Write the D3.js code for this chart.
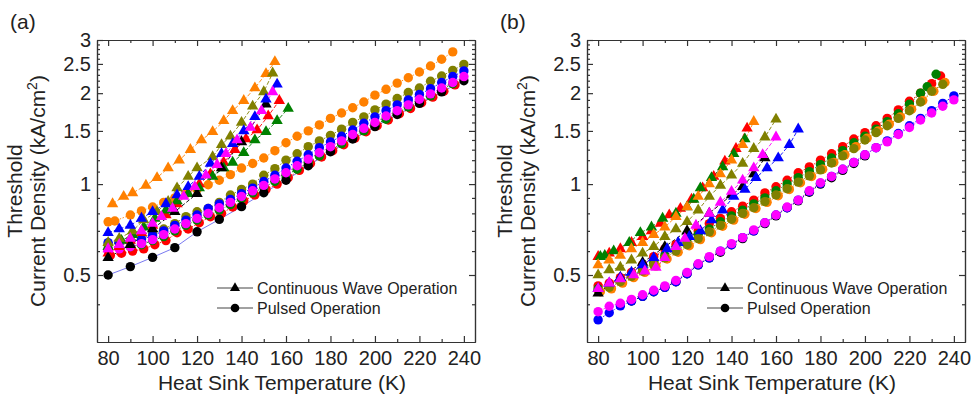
<!DOCTYPE html>
<html><head><meta charset="utf-8">
<script src="https://cdn.jsdelivr.net/npm/d3@7"></script>
<style>body{margin:0;background:#fff} svg{display:block} text{font-family:"Liberation Sans",Arial,sans-serif;fill:#222}</style>
</head><body><svg id="c" width="975" height="399"></svg>
<script>
// ---------- axis / label data ----------
const xTicksMajor=[80,100,120,140,160,180,200,220,240];
const xTicksMinor=[90,110,130,150,170,190,210,230];
const yTicksMajor=[0.5,1,1.5,2,2.5,3];
const yTickLabels=["0.5","1","1.5","2","2.5","3"];
const yTicksMinor=[0.4,0.6,0.7,0.8,0.9,1.1,1.2,1.3,1.4,1.6,1.7,1.8,1.9,2.1,2.2,2.3,2.4,2.6,2.7,2.8,2.9];
const legendLabels=["Continuous Wave Operation","Pulsed Operation"];
const panelLabels=["(a)","(b)"];
const xTitle="Heat Sink Temperature (K)";
const yTitle1="Threshold";
const yTitle2="Current Density (kA/cm";

// ---------- panel (a): continuous wave [T (K), J (kA/cm2)] ----------
const a_cw_orange=[[82,0.86],[87,0.91],[91,0.935],[97,0.99],[102,1.05],[107,1.13],[112,1.20],[117,1.30],[122,1.40],[127,1.49],[132,1.62],[136,1.75],[141,1.89],[146,2.08],[151,2.32],[155,2.54]];
const a_cw_olive=[[80,0.64],[85,0.66],[91,0.70],[96,0.76],[102,0.81],[107,0.875],[111,0.97],[116,1.06],[120,1.13],[127,1.23],[131,1.35],[135,1.44],[140,1.60],[145,1.81],[150,2.02],[154,2.33]];
const a_cw_blue=[[80,0.69],[85,0.71],[90,0.73],[95,0.77],[100,0.81],[106,0.86],[111,0.92],[116,0.98],[121,1.06],[126,1.17],[131,1.26],[136,1.36],[141,1.50],[146,1.67],[151,1.91],[156,2.14]];
const a_cw_magenta=[[80,0.61],[85,0.63],[90,0.66],[95,0.70],[100,0.74],[104,0.78],[109,0.83],[114,0.91],[119,0.98],[124,1.07],[129,1.16],[133,1.26],[138,1.40],[144,1.54],[149,1.75],[154,2.02]];
const a_cw_red=[[80,0.59],[85,0.62],[90,0.65],[95,0.69],[100,0.73],[106,0.79],[111,0.86],[116,0.93],[121,1.00],[126,1.08],[132,1.18],[137,1.30],[142,1.41],[147,1.51],[152,1.68],[157,1.89]];
const a_cw_green=[[80,0.62],[86,0.65],[91,0.68],[96,0.72],[101,0.77],[106,0.82],[111,0.88],[116,0.93],[121,0.97],[127,1.06],[132,1.13],[136,1.18],[141,1.27],[146,1.40],[151,1.49],[156,1.62],[161,1.78]];
const a_cw_black=[[80,0.57],[90,0.63],[100,0.71],[110,0.81],[120,0.93],[131,1.13],[140,1.38],[151,1.84]];

// ---------- panel (a): pulsed ----------
const a_p_orange=[[80,0.75],[83,0.755],[90,0.79],[95,0.815],[100,0.84],[105,0.87],[110,0.90],[115,0.93],[120,0.96],[125,0.995],[130,1.03],[135,1.075],[140,1.13],[145,1.17],[150,1.22],[155,1.29],[160,1.37],[165,1.44],[170,1.50],[175,1.57],[180,1.65],[185,1.72],[190,1.79],[195,1.87],[200,1.97],[205,2.06],[210,2.16],[215,2.25],[220,2.35],[225,2.46],[230,2.59],[235,2.74]];
const a_p_olive=[[80,0.63],[85,0.64],[90,0.65],[95,0.66],[100,0.685],[105,0.71],[110,0.74],[115,0.78],[120,0.81],[125,0.83],[130,0.87],[135,0.92],[140,0.96],[145,1.00],[150,1.07],[155,1.125],[160,1.20],[165,1.26],[170,1.33],[175,1.39],[180,1.45],[185,1.52],[190,1.60],[195,1.67],[200,1.76],[205,1.84],[210,1.92],[215,2.01],[220,2.08],[225,2.19],[230,2.28],[235,2.38],[240,2.49]];
const a_p_blue=[[80,0.64],[85,0.64],[90,0.645],[95,0.655],[100,0.675],[105,0.70],[110,0.73],[115,0.76],[120,0.79],[125,0.83],[130,0.86],[135,0.89],[140,0.93],[145,0.97],[150,1.02],[155,1.07],[160,1.13],[165,1.19],[170,1.25],[175,1.32],[180,1.38],[185,1.44],[190,1.51],[195,1.59],[200,1.67],[205,1.75],[210,1.83],[215,1.90],[220,1.98],[225,2.07],[230,2.17],[235,2.27],[240,2.37]];
const a_p_magenta=[[80,0.60],[85,0.61],[90,0.62],[95,0.635],[100,0.655],[105,0.68],[110,0.71],[115,0.74],[120,0.77],[125,0.80],[130,0.835],[135,0.87],[140,0.91],[145,0.95],[150,0.99],[155,1.04],[160,1.09],[165,1.15],[170,1.21],[175,1.27],[180,1.33],[185,1.39],[190,1.46],[195,1.53],[200,1.60],[205,1.68],[210,1.75],[215,1.83],[220,1.91],[225,1.99],[230,2.08],[235,2.17],[240,2.27]];
const a_p_red=[[81,0.58],[86,0.59],[91,0.60],[96,0.61],[101,0.63],[106,0.65],[111,0.69],[116,0.71],[121,0.745],[126,0.78],[131,0.80],[136,0.84],[141,0.88],[146,0.92],[151,0.96],[156,1.00],[161,1.05],[166,1.11],[171,1.17],[176,1.23],[181,1.29],[186,1.35],[191,1.42],[196,1.49],[201,1.56],[206,1.63],[211,1.71],[216,1.78],[221,1.86],[226,1.94],[231,2.03],[236,2.13]];
const a_p_green=[[80,0.61],[85,0.615],[90,0.62],[95,0.63],[100,0.65],[105,0.67],[110,0.70],[115,0.73],[120,0.76],[125,0.79],[130,0.82],[135,0.855],[140,0.895],[145,0.935],[150,0.975],[155,1.02],[160,1.07],[165,1.12],[170,1.18],[175,1.24],[180,1.30],[185,1.36],[190,1.43],[195,1.50],[200,1.57],[205,1.64],[210,1.72],[215,1.80],[220,1.88],[225,1.96],[230,2.05],[235,2.15]];
const a_p_black=[[80,0.50],[90,0.533],[100,0.572],[110,0.616],[120,0.695],[130,0.764],[140,0.842],[150,0.936],[160,1.03],[170,1.15],[180,1.28],[190,1.41],[200,1.55],[210,1.70],[220,1.85],[230,2.02],[240,2.20]];

// ---------- panel (b): continuous wave ----------
const b_cw_red=[[80,0.575],[85,0.59],[90,0.61],[95,0.64],[100,0.67],[104,0.70],[108,0.74],[112,0.79],[117,0.83],[122,0.89],[127,0.97],[132,1.06],[137,1.19],[142,1.31],[147,1.53]];
const b_cw_green=[[81,0.575],[83,0.58],[87,0.60],[94,0.64],[99,0.69],[104,0.72],[109,0.77],[115,0.80],[120,0.84],[123,0.89],[126,0.97],[131,1.05],[136,1.14],[141,1.26],[146,1.41]];
const b_cw_orange=[[80,0.54],[85,0.56],[90,0.58],[95,0.61],[100,0.64],[105,0.68],[110,0.72],[115,0.78],[120,0.84],[125,0.91],[130,1.00],[135,1.08],[140,1.20],[145,1.35],[150,1.61]];
const b_cw_olive=[[80,0.50],[85,0.52],[90,0.53],[95,0.56],[100,0.59],[105,0.62],[110,0.67],[115,0.71],[120,0.75],[125,0.82],[130,0.91],[135,0.99],[140,1.07],[145,1.17],[150,1.31],[155,1.43],[160,1.64]];
const b_cw_blue=[[80,0.45],[85,0.47],[90,0.49],[95,0.51],[100,0.54],[105,0.57],[111,0.61],[116,0.64],[121,0.67],[126,0.70],[131,0.76],[136,0.82],[141,0.91],[146,0.96],[151,1.05],[156,1.13],[161,1.22],[166,1.35],[170,1.52]];
const b_cw_magenta=[[80,0.45],[85,0.47],[90,0.485],[96,0.50],[101,0.515],[106,0.53],[110,0.57],[115,0.62],[119,0.66],[124,0.73],[130,0.80],[135,0.87],[140,0.945],[145,1.03],[150,1.13],[154,1.25],[160,1.43]];
const b_cw_black=[[80,0.435],[90,0.49],[100,0.55],[110,0.62],[120,0.70],[130,0.80],[140,0.92],[145,0.98],[150,1.08],[155,1.22]];

// ---------- panel (b): pulsed ----------
const b_p_red=[[80,0.46],[85,0.47],[90,0.49],[95,0.51],[100,0.54],[105,0.575],[110,0.61],[115,0.63],[120,0.66],[125,0.70],[130,0.74],[135,0.77],[140,0.81],[145,0.845],[150,0.885],[155,0.935],[160,0.98],[165,1.03],[170,1.09],[175,1.14],[180,1.20],[185,1.26],[190,1.33],[195,1.41],[200,1.48],[205,1.56],[210,1.65],[215,1.76],[220,1.88],[225,2.00],[230,2.15],[234,2.28]];
const b_p_green=[[80,0.45],[85,0.46],[90,0.48],[95,0.50],[100,0.52],[105,0.55],[110,0.58],[115,0.61],[120,0.64],[125,0.68],[130,0.71],[135,0.75],[140,0.785],[145,0.82],[150,0.86],[155,0.90],[160,0.95],[165,1.00],[170,1.05],[175,1.10],[180,1.16],[185,1.22],[190,1.29],[195,1.37],[200,1.44],[205,1.52],[210,1.61],[215,1.71],[220,1.84],[225,2.00],[228,2.10],[232,2.31]];
const b_p_orange=[[81,0.44],[86,0.45],[91,0.47],[96,0.49],[101,0.51],[106,0.535],[111,0.565],[116,0.595],[121,0.625],[126,0.655],[131,0.69],[136,0.725],[141,0.76],[146,0.795],[151,0.83],[156,0.87],[161,0.915],[166,0.96],[171,1.01],[176,1.06],[181,1.12],[186,1.18],[191,1.25],[196,1.33],[201,1.42],[206,1.50],[211,1.58],[216,1.67],[221,1.77],[226,1.89],[231,2.03],[236,2.17]];
const b_p_olive=[[80,0.445],[85,0.455],[90,0.475],[95,0.495],[100,0.515],[105,0.54],[110,0.57],[115,0.60],[120,0.63],[125,0.66],[130,0.695],[135,0.73],[140,0.765],[145,0.80],[150,0.835],[155,0.875],[160,0.92],[165,0.965],[170,1.015],[175,1.065],[180,1.115],[185,1.175],[190,1.24],[195,1.31],[200,1.40],[205,1.48],[210,1.56],[215,1.65],[220,1.75],[225,1.87],[230,2.03],[235,2.14]];
const b_p_blue=[[80,0.355],[85,0.375],[90,0.395],[95,0.41],[100,0.425],[105,0.44],[110,0.455],[115,0.475],[120,0.505],[125,0.54],[130,0.57],[135,0.60],[140,0.63],[145,0.665],[150,0.70],[155,0.745],[160,0.79],[165,0.835],[170,0.885],[175,0.945],[180,1.005],[185,1.06],[190,1.12],[195,1.18],[200,1.25],[205,1.32],[210,1.39],[215,1.47],[220,1.56],[225,1.65],[230,1.75],[235,1.85],[240,1.96]];
const b_p_magenta=[[80,0.378],[85,0.394],[90,0.403],[95,0.415],[100,0.43],[105,0.445],[110,0.46],[115,0.48],[120,0.51],[125,0.545],[130,0.575],[135,0.60],[140,0.635],[145,0.665],[150,0.705],[155,0.745],[160,0.79],[165,0.84],[170,0.885],[175,0.95],[180,1.01],[185,1.06],[190,1.12],[195,1.18],[200,1.25],[205,1.32],[210,1.38],[215,1.46],[220,1.54],[225,1.63],[230,1.72],[235,1.81],[240,1.90]];
const b_p_black=[[95,0.41],[100,0.425],[105,0.44],[110,0.455],[115,0.475],[120,0.505],[125,0.54],[130,0.57],[135,0.595],[140,0.63],[145,0.66],[150,0.70],[155,0.74],[160,0.785],[165,0.835],[170,0.88],[175,0.94],[180,1.00],[185,1.05],[190,1.11],[195,1.17],[200,1.24]];

// ---------- colours ----------
const C={orange:"#ff8000",olive:"#808000",blue:"#0000ff",magenta:"#ff00ff",red:"#ff0000",green:"#008000",black:"#000000"};

const panels=[
 {ox:97, label:panelLabels[0],
  cw:[["red",a_cw_red],["green",a_cw_green],["orange",a_cw_orange],["olive",a_cw_olive],["black",a_cw_black],["blue",a_cw_blue],["magenta",a_cw_magenta]],
  p:[["red",a_p_red],["green",a_p_green],["orange",a_p_orange],["olive",a_p_olive],["black",a_p_black],["blue",a_p_blue],["magenta",a_p_magenta]]},
 {ox:587, label:panelLabels[1],
  cw:[["red",b_cw_red],["green",b_cw_green],["orange",b_cw_orange],["olive",b_cw_olive],["black",b_cw_black],["blue",b_cw_blue],["magenta",b_cw_magenta]],
  p:[["red",b_p_red],["green",b_p_green],["orange",b_p_orange],["olive",b_p_olive],["black",b_p_black],["blue",b_p_blue],["magenta",b_p_magenta]]}
];

const svg=d3.select("#c");
const PW=378, PT=40, PB=342;
const FS=20;

panels.forEach((P,pi)=>{
  const x=d3.scaleLinear().domain([75,245]).range([P.ox,P.ox+PW]);
  const y=d3.scaleLog().domain([0.3,3]).range([PB,PT]);
  const g=svg.append("g");

  const line=d3.line().x(d=>x(d[0])).y(d=>y(d[1]));
  P.p.forEach(([c,data])=>{
    const isBk=(pi===0&&c==="black");
    g.append("path").attr("d",line(data)).attr("fill","none").attr("stroke",isBk?"#6a6aee":C[c])
     .attr("stroke-width",0.9).attr("stroke-dasharray",isBk?null:"1.5,1.5");
  });
  P.cw.forEach(([c,data])=>{
    g.append("path").attr("d",line(data)).attr("fill","none").attr("stroke",C[c])
     .attr("stroke-width",0.9).attr("stroke-dasharray","4,2");
  });
  P.p.forEach(([c,data])=>{
    g.append("g").selectAll("circle").data(data).join("circle")
     .attr("cx",d=>x(d[0])).attr("cy",d=>y(d[1])).attr("r",4.7).attr("fill",C[c]);
  });
  const tri=d3.symbol().type(d3.symbolTriangle).size(56);
  P.cw.forEach(([c,data])=>{
    g.append("g").selectAll("path").data(data).join("path")
     .attr("d",tri).attr("transform",d=>`translate(${x(d[0])},${y(d[1])})`).attr("fill",C[c]);
  });

  const ax=svg.append("g");
  const style=sel=>{sel.selectAll(".domain,line").attr("stroke","#333").attr("stroke-width",1.2);
                    sel.selectAll("text").attr("font-size",FS).attr("fill","#222").attr("font-family","Liberation Sans, Arial, sans-serif");};
  ax.append("g").attr("transform",`translate(0,${PB})`)
    .call(d3.axisBottom(x).tickValues(xTicksMajor).tickSize(-6).tickSizeOuter(0).tickPadding(9).tickFormat(d3.format("d"))).call(style);
  ax.append("g").attr("transform",`translate(0,${PB})`)
    .call(d3.axisBottom(x).tickValues(xTicksMinor).tickSize(-3).tickSizeOuter(0).tickFormat("")).call(style);
  ax.append("g").attr("transform",`translate(0,${PT})`)
    .call(d3.axisTop(x).tickValues(xTicksMajor).tickSize(-6).tickSizeOuter(0).tickFormat("")).call(style);
  ax.append("g").attr("transform",`translate(0,${PT})`)
    .call(d3.axisTop(x).tickValues(xTicksMinor).tickSize(-3).tickSizeOuter(0).tickFormat("")).call(style);
  ax.append("g").attr("transform",`translate(${P.ox},0)`)
    .call(d3.axisLeft(y).tickValues(yTicksMajor).tickSize(-6).tickSizeOuter(0).tickPadding(6).tickFormat((d,i)=>yTickLabels[i])).call(style);
  ax.append("g").attr("transform",`translate(${P.ox},0)`)
    .call(d3.axisLeft(y).tickValues(yTicksMinor).tickSize(-3).tickSizeOuter(0).tickFormat("")).call(style);
  ax.append("g").attr("transform",`translate(${P.ox+PW},0)`)
    .call(d3.axisRight(y).tickValues(yTicksMajor).tickSize(-6).tickSizeOuter(0).tickFormat("")).call(style);
  ax.append("g").attr("transform",`translate(${P.ox+PW},0)`)
    .call(d3.axisRight(y).tickValues(yTicksMinor).tickSize(-3).tickSizeOuter(0).tickFormat("")).call(style);

  svg.append("text").attr("x",P.ox+PW/2-4).attr("y",390).attr("text-anchor","middle").attr("font-size",21).text(xTitle);
  svg.append("text").attr("transform",`translate(${P.ox-75},191) rotate(-90)`).attr("text-anchor","middle").attr("font-size",21).text(yTitle1);
  const yt2=svg.append("text").attr("transform",`translate(${P.ox-52},191) rotate(-90)`).attr("text-anchor","middle").attr("font-size",21);
  yt2.append("tspan").text(yTitle2);
  yt2.append("tspan").attr("font-size",14).attr("dy",-8).text("2");
  yt2.append("tspan").attr("dy",8).text(")");
  svg.append("text").attr("x",P.ox-87).attr("y",29).attr("font-size",21).text(P.label);

  const lx=P.ox+120, ly=[288,308];
  legendLabels.forEach((t,i)=>{
    const lg=svg.append("g");
    lg.append("line").attr("x1",lx).attr("x2",lx+36).attr("y1",ly[i]).attr("y2",ly[i]).attr("stroke","#444").attr("stroke-width",1);
    if(i===0) lg.append("path").attr("d",d3.symbol().type(d3.symbolTriangle).size(44)).attr("transform",`translate(${lx+18},${ly[i]})`).attr("fill","#000");
    else lg.append("circle").attr("cx",lx+18).attr("cy",ly[i]).attr("r",4.3).attr("fill","#000");
    lg.append("text").attr("x",lx+40).attr("y",ly[i]).attr("dy","0.36em").attr("font-size",16).text(t);
  });
});
</script></body></html>
